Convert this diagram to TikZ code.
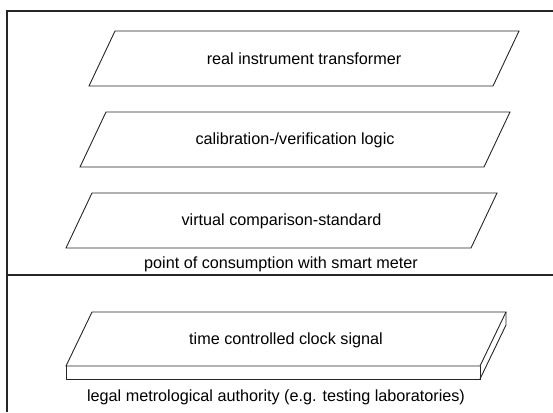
\documentclass[tikz,border=0pt]{standalone}
\usepackage{fontspec}
\setmainfont{Liberation Sans}
\begin{document}
\begin{tikzpicture}[x=1pt,y=-1pt,
  frameline/.style={line width=1.6pt,draw=black!85},
  shapeline/.style={line width=0.9pt,draw=black!85,line join=miter},
  lbl/.style={font=\fontsize{16.2}{19}\selectfont,inner sep=0pt}]
\useasboundingbox (0,0) rectangle (553,412);
% frame
\draw[frameline] (553,11) -- (7,11) -- (7,412);
\draw[frameline] (7,275) -- (553,275);
% parallelogram 1
\draw[shapeline] (115,31) -- (519,31) -- (493,86) -- (89,86) -- cycle;
\node[lbl] (p1) at (304,59) {real instrument transformer};
% parallelogram 2
\draw[shapeline] (106,112) -- (510,112) -- (484,167) -- (80,167) -- cycle;
\node[lbl] (p2) at (295,140) {calibration-/verification logic};
% parallelogram 3
\draw[shapeline] (92,193) -- (497,193) -- (471,248) -- (66,248) -- cycle;
\node[lbl] (p3) at (281.5,221) {virtual comparison-standard};
\node[lbl] (smart) at (281,264) {point of consumption with smart meter};
% slab
\draw[shapeline] (92,312) -- (506,312) -- (480,366) -- (66,366) -- cycle;
\draw[shapeline] (66,366) -- (66,379) -- (480,379) -- (480,366);
\draw[shapeline] (506,312) -- (506,325) -- (480,379);
\node[lbl] (clock) at (286,340) {time controlled clock signal};
\node[lbl] (legal) at (276,397) {legal metrological authority (e.g. testing laboratories)};
\end{tikzpicture}
\end{document}
